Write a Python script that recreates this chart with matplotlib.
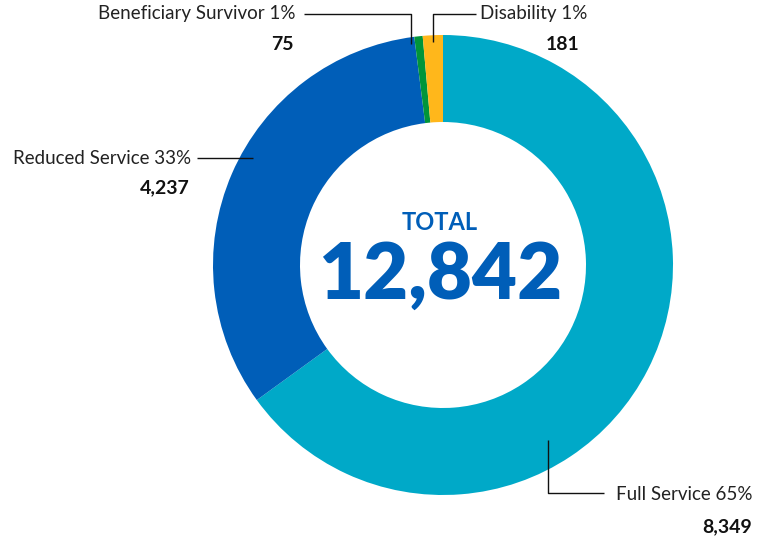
import matplotlib
matplotlib.use("Agg")
import matplotlib.pyplot as plt

# Retirement types, clockwise from 12 o'clock
categories = ["Full Service", "Reduced Service", "Beneficiary Survivor", "Disability"]
counts = [8349, 4237, 75, 181]
percent_labels = ["65%", "33%", "1%", "1%"]
colors = ["#00A9C8", "#005EB8", "#00953A", "#FFB71B"]
total = sum(counts)

W, H = 757, 542
fig = plt.figure(figsize=(W / 100, H / 100), dpi=100)
ax = fig.add_axes([0, 0, 1, 1])


def Y(y):
    """Convert a top-down pixel row to the axes' bottom-up coordinate."""
    return H - y


cx, cy = 443, 265
r_out, r_in = 230, 143

ax.pie(
    counts,
    colors=colors,
    startangle=90,
    counterclock=False,
    radius=r_out,
    center=(cx, Y(cy)),
    wedgeprops=dict(width=r_out - r_in, linewidth=0),
    frame=True,
)
ax.set_xlim(0, W)
ax.set_ylim(0, H)
ax.set_aspect("equal")
ax.axis("off")

fam = ["Lato", "DejaVu Sans"]
label_font = dict(family=fam, fontsize=13.5, fontweight="normal", color="#222222")
num_font = dict(family=fam, fontsize=14, fontweight="bold", color="#111111")
line_kw = dict(color="#111111", lw=1.0, solid_capstyle="butt")


def fmt(v):
    return f"{v:,}"


def leader(xs, ys):
    ax.plot(xs, [Y(v) for v in ys], **line_kw)


# Beneficiary Survivor (top left)
i = 2
leader([304, 411, 411], [14, 14, 44])
ax.text(295, Y(14), f"{categories[i]} {percent_labels[i]}", ha="right", va="center", **label_font)
ax.text(294, Y(45), fmt(counts[i]), ha="right", va="center", **num_font)

# Disability (top right)
i = 3
leader([476, 433, 433], [14, 14, 42])
ax.text(480, Y(14), f"{categories[i]} {percent_labels[i]}", ha="left", va="center", **label_font)
ax.text(580, Y(45), fmt(counts[i]), ha="right", va="center", **num_font)

# Reduced Service (left)
i = 1
leader([197, 253], [158, 158])
ax.text(191, Y(158), f"{categories[i]} {percent_labels[i]}", ha="right", va="center", **label_font)
ax.text(190, Y(188), fmt(counts[i]), ha="right", va="center", **num_font)

# Full Service (bottom right)
i = 0
leader([548, 548, 604], [440, 493, 493])
ax.text(752, Y(495), f"{categories[i]} {percent_labels[i]}", ha="right", va="center", **label_font)
ax.text(752, Y(527), fmt(counts[i]), ha="right", va="center", **num_font)

# Center total
ax.text(440, Y(223), "TOTAL", ha="center", va="center", family=fam,
        fontsize=17, fontweight="bold", color="#005EB8")
ax.text(440, Y(276), fmt(total), ha="center", va="center", family=fam,
        fontsize=56, fontweight="heavy", color="#005EB8")

fig.savefig("out.png", dpi=100, facecolor="white")
